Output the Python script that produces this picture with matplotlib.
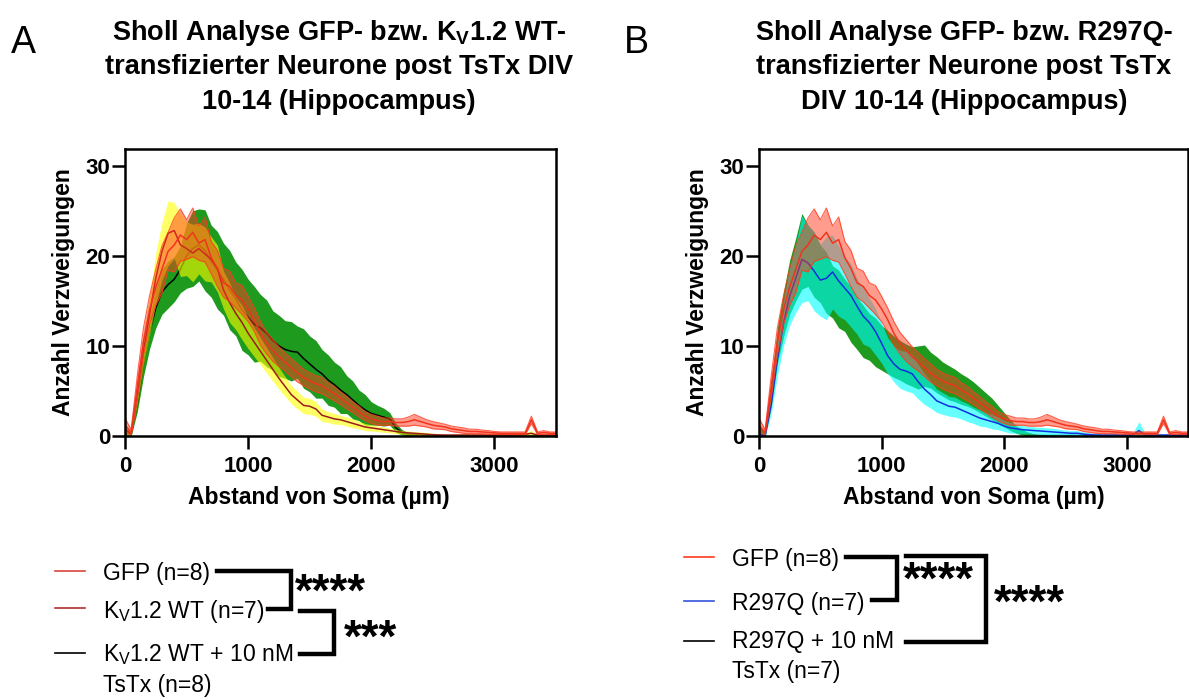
import matplotlib
matplotlib.use("Agg")
import matplotlib.pyplot as plt
from matplotlib.lines import Line2D

plt.rcParams['font.family'] = ['Liberation Sans', 'DejaVu Sans']
plt.rcParams['mathtext.fontset'] = 'custom'
plt.rcParams['mathtext.rm'] = 'Liberation Sans'
plt.rcParams['mathtext.bf'] = 'Liberation Sans:bold'
plt.rcParams['mathtext.it'] = 'Liberation Sans:italic'

# Sholl radius (µm) and mean / SEM of branch counts
radius = list(range(0, 3501, 50))

gfp_mean = [1.2, 0.4, 5.5, 10.5, 14.0, 16.5, 18.5, 20.5, 21.2, 22.3,
            21.8, 22.6, 21.4, 21.8, 19.8, 18.6, 17.0, 16.6, 15.6, 15.1,
            14.1, 12.9, 11.4, 10.3, 9.5, 8.8, 8.2, 7.6, 7.0, 6.5,
            6.1, 5.8, 5.6, 5.1, 4.7, 4.2, 3.7, 3.2, 2.7, 2.2,
            1.9, 1.7, 1.6, 1.6, 1.5, 1.5, 1.6, 1.8, 1.6, 1.4,
            1.2, 1.1, 1.0, 0.8, 0.7, 0.6, 0.5, 0.5, 0.45, 0.4,
            0.35, 0.3, 0.3, 0.3, 0.3, 0.3, 1.8, 0.3, 0.4, 0.3,
            0.3]
gfp_sem = [0.8, 0.3, 1.2, 1.5, 1.6, 2.0, 2.6, 2.1, 3.0, 2.9,
           2.2, 2.7, 1.9, 2.5, 1.8, 2.0, 1.6, 1.7, 1.4, 1.6,
           1.4, 1.3, 1.3, 1.2, 1.2, 1.1, 1.0, 1.0, 1.0, 0.9,
           0.9, 0.9, 0.9, 0.8, 0.8, 0.7, 0.7, 0.6, 0.6, 0.5,
           0.5, 0.5, 0.4, 0.4, 0.4, 0.4, 0.5, 0.6, 0.5, 0.4,
           0.4, 0.35, 0.3, 0.3, 0.3, 0.3, 0.25, 0.25, 0.2, 0.2,
           0.15, 0.15, 0.15, 0.15, 0.15, 0.15, 0.4, 0.15, 0.2, 0.15,
           0.15]

kv_wt_mean = [0.8, 0.2, 4.5, 9.5, 13.5, 17.5, 20.5, 22.5, 22.8, 21.2,
              20.8, 20.3, 20.8, 20.2, 19.6, 18.6, 16.2, 14.8, 13.6, 12.6,
              11.4, 10.4, 9.4, 8.4, 7.4, 6.4, 5.5, 4.6, 4.0, 3.4,
              3.3, 3.0, 2.3, 2.1, 1.9, 1.8, 1.6, 1.4, 1.2, 1.0,
              0.9, 0.8, 0.7, 0.6, 0.5, 0.4, 0.35, 0.3, 0.25, 0.2,
              0.15, 0.12, 0.1, 0.1, 0.1, 0.1, 0.1, 0.1, 0.1, 0.1,
              0.1, 0.1, 0.1, 0.1, 0.1, 0.2, 0.3, 0.1, 0.1, 0.1,
              0.1]
kv_wt_sem = [0.5, 0.2, 1.0, 1.6, 2.2, 2.8, 3.2, 3.6, 3.1, 3.5,
             3.0, 3.2, 2.8, 3.0, 2.5, 2.6, 2.1, 2.2, 1.8, 1.9,
             1.7, 1.6, 1.5, 1.4, 1.3, 1.2, 1.1, 1.0, 1.0, 0.9,
             0.9, 0.8, 0.7, 0.6, 0.6, 0.5, 0.5, 0.5, 0.4, 0.4,
             0.35, 0.3, 0.3, 0.25, 0.25, 0.2, 0.2, 0.2, 0.2, 0.2,
             0.15, 0.15, 0.1, 0.1, 0.1, 0.1, 0.1, 0.1, 0.1, 0.1,
             0.1, 0.1, 0.1, 0.1, 0.1, 0.2, 0.3, 0.1, 0.1, 0.1,
             0.1]

kv_tstx_mean = [0.5, 0.2, 3.5, 8.0, 11.5, 14.2, 16.0, 16.8, 17.4, 18.5,
                20.0, 20.8, 21.2, 20.6, 19.4, 18.4, 17.4, 16.2, 15.2, 14.0,
                13.2, 12.4, 12.0, 11.4, 10.6, 10.0, 9.6, 9.4, 9.3, 8.6,
                8.0, 7.4, 6.9, 6.2, 5.7, 5.1, 4.6, 4.0, 3.4, 2.9,
                2.5, 2.3, 2.1, 1.9, 0.9, 0.4, 0.2, 0.15, 0.1, 0.1,
                0.05, 0.05, 0.05, 0.05, 0.05, 0.05, 0.05, 0.05, 0.05, 0.05,
                0.05, 0.05, 0.05, 0.05, 0.05, 0.05, 0.05, 0.05, 0.05, 0.05,
                0.05]
kv_tstx_sem = [0.4, 0.2, 0.8, 1.4, 1.8, 2.2, 2.5, 2.6, 2.5, 2.6,
               3.6, 4.2, 4.0, 4.5, 4.0, 4.3, 4.0, 4.4, 4.1, 4.5,
               4.2, 4.2, 3.7, 3.7, 3.3, 3.4, 3.2, 3.3, 2.9, 3.3,
               3.1, 3.2, 2.7, 2.8, 2.5, 2.6, 2.1, 2.1, 1.7, 1.7,
               1.3, 1.1, 1.0, 0.7, 0.5, 0.3, 0.2, 0.15, 0.1, 0.1,
               0.05, 0.05, 0.05, 0.05, 0.05, 0.05, 0.05, 0.05, 0.05, 0.05,
               0.05, 0.05, 0.05, 0.05, 0.05, 0.05, 0.05, 0.05, 0.05, 0.05,
               0.05]

r297q_mean = [0.3, 0.0, 3.5, 8.5, 12.5, 15.5, 17.5, 19.6, 19.2, 18.3,
              17.3, 17.5, 18.2, 17.2, 16.4, 15.6, 14.4, 13.3, 12.6, 11.6,
              10.3, 8.9, 8.0, 7.4, 7.2, 6.9, 6.0, 5.2, 4.6, 3.9,
              3.6, 3.3, 3.2, 2.9, 2.6, 2.3, 2.0, 1.8, 1.6, 1.4,
              1.1, 0.9, 0.8, 0.7, 0.65, 0.6, 0.55, 0.5, 0.45, 0.4,
              0.35, 0.3, 0.3, 0.2, 0.15, 0.1, 0.1, 0.1, 0.1, 0.1,
              0.1, 0.1, 0.6, 0.1, 0.1, 0.1, 0.1, 0.1, 0.1, 0.1,
              0.1]
r297q_sem = [0.3, 0.1, 1.0, 1.8, 2.5, 3.2, 3.8, 4.8, 4.2, 4.4,
             4.0, 4.6, 4.1, 3.9, 3.5, 3.5, 3.1, 3.1, 2.7, 2.6,
             2.2, 2.0, 2.0, 2.1, 2.2, 2.1, 1.9, 1.7, 1.5, 1.3,
             1.2, 1.1, 1.1, 1.0, 1.0, 0.9, 0.9, 0.8, 0.8, 0.7,
             0.6, 0.6, 0.5, 0.45, 0.4, 0.4, 0.4, 0.4, 0.4, 0.35,
             0.3, 0.3, 0.3, 0.25, 0.2, 0.2, 0.2, 0.2, 0.2, 0.2,
             0.2, 0.2, 1.0, 0.2, 0.15, 0.15, 0.1, 0.1, 0.1, 0.1,
             0.1]

r297q_tstx_mean = [0.6, 0.2, 4.5, 10.0, 13.5, 16.5, 18.5, 20.5, 20.0, 19.0,
                   18.0, 17.0, 16.0, 15.2, 14.5, 13.5, 12.5, 11.6, 11.0, 10.4,
                   9.8, 9.3, 8.8, 8.4, 8.0, 7.7, 7.6, 7.8, 7.3, 6.8,
                   6.3, 5.9, 5.6, 5.2, 4.9, 4.5, 4.0, 3.5, 3.0, 2.4,
                   1.8, 1.2, 0.7, 0.4, 0.2, 0.1, 0.05, 0.05, 0.05, 0.05,
                   0.05, 0.05, 0.05, 0.05, 0.05, 0.05, 0.05, 0.05, 0.05, 0.05,
                   0.05, 0.05, 0.05, 0.05, 0.05, 0.05, 0.05, 0.05, 0.05, 0.05,
                   0.05]
r297q_tstx_sem = [0.5, 0.2, 1.2, 2.0, 2.5, 3.0, 3.5, 4.2, 3.4, 3.6,
                  3.2, 3.4, 2.9, 3.2, 2.9, 3.1, 2.9, 2.9, 2.6, 2.7,
                  2.5, 2.4, 2.3, 2.2, 2.2, 2.2, 2.4, 2.3, 2.0, 2.0,
                  1.9, 1.9, 1.8, 1.7, 1.6, 1.5, 1.4, 1.3, 1.2, 1.0,
                  0.8, 0.6, 0.4, 0.3, 0.2, 0.1, 0.05, 0.05, 0.05, 0.05,
                  0.05, 0.05, 0.05, 0.05, 0.05, 0.05, 0.05, 0.05, 0.05, 0.05,
                  0.05, 0.05, 0.05, 0.05, 0.05, 0.05, 0.05, 0.05, 0.05, 0.05,
                  0.05]

x_ticks = [0, 1000, 2000, 3000]
y_ticks = [0, 10, 20, 30]

title_a = ['Sholl Analyse GFP- bzw. K$_\\mathbf{V}$1.2 WT-',
           'transfizierter Neurone post TsTx DIV',
           '10-14 (Hippocampus)']
title_b = ['Sholl Analyse GFP- bzw. R297Q-',
           'transfizierter Neurone post TsTx',
           'DIV 10-14 (Hippocampus)']

legend_a = ['GFP (n=8)', 'K$_\\mathrm{V}$1.2 WT (n=7)',
            'K$_\\mathrm{V}$1.2 WT + 10 nM\nTsTx (n=8)']
legend_b = ['GFP (n=8)', 'R297Q (n=7)', 'R297Q + 10 nM\nTsTx (n=7)']

W, H = 1189, 700
fig = plt.figure(figsize=(W / 100, H / 100), dpi=100)


def fx(x):
    return x / W


def fy(y):
    return 1 - y / H


def band(ax, mean, sem, line_color, band_color, alpha, z, edges=False, line_first=False):
    # each group is layered on top of the previous one (band, then line)
    lo = [m - s for m, s in zip(mean, sem)]
    hi = [m + s for m, s in zip(mean, sem)]
    line_z = z + 0.1 if line_first else z + 0.3
    ax.fill_between(radius, lo, hi, color=band_color, alpha=alpha, lw=0, zorder=z + 0.2)
    if edges:
        ax.plot(radius, lo, color=band_color, lw=0.8, alpha=0.8, zorder=z + 0.25)
        ax.plot(radius, hi, color=band_color, lw=0.8, alpha=0.8, zorder=z + 0.25)
    ax.plot(radius, mean, color=line_color, lw=1.1, zorder=line_z)


def style(ax, xlabel_x=0.5):
    ax.set_xlim(0, 3500)
    ax.set_ylim(0, 31.85)
    ax.set_xticks(x_ticks)
    ax.set_yticks(y_ticks)
    for s in ax.spines.values():
        s.set_linewidth(1.8)
        s.set_zorder(10)
    ax.tick_params(axis='both', length=9.5, width=1.8, labelsize=16)
    ax.tick_params(axis='x', pad=5)
    ax.tick_params(axis='y', pad=1)
    for lab in ax.get_xticklabels() + ax.get_yticklabels():
        lab.set_fontweight('bold')
    ax.set_xlabel('Abstand von Soma (µm)', fontsize=16.5, fontweight='bold', labelpad=9)
    ax.xaxis.set_label_coords(xlabel_x, -0.175)
    ax.set_ylabel('Anzahl Verzweigungen', fontsize=16.5, fontweight='bold', labelpad=8)


# panel A
ax_a = fig.add_axes([fx(125), fy(436), fx(556) - fx(125), fy(149) - fy(436)])
band(ax_a, kv_tstx_mean, kv_tstx_sem, 'black', '#1e9a1e', 1.0, 1)
band(ax_a, kv_wt_mean, kv_wt_sem, '#9b1c1c', '#ffff00', 0.6, 2)
band(ax_a, gfp_mean, gfp_sem, '#f0341e', '#ff3b1f', 0.5, 3, edges=True)
style(ax_a, xlabel_x=(319 - 125) / 431)

# panel B
ax_b = fig.add_axes([fx(759), fy(436), fx(1188) - fx(759), fy(149) - fy(436)])
band(ax_b, r297q_tstx_mean, r297q_tstx_sem, 'black', '#1e9a1e', 1.0, 1, line_first=True)
band(ax_b, r297q_mean, r297q_sem, '#1030e0', '#00ffff', 0.6, 2)
band(ax_b, gfp_mean, gfp_sem, '#f0341e', '#ff3b1f', 0.5, 3, edges=True)
style(ax_b, xlabel_x=(974 - 759) / 429)

# titles and panel letters
for i, line in enumerate(title_a):
    fig.text(fx(339), fy(40 + 34.5 * i), line, ha='center', va='baseline',
             fontsize=19.5, fontweight='bold')
for i, line in enumerate(title_b):
    fig.text(fx(964), fy(40 + 34.5 * i), line, ha='center', va='baseline',
             fontsize=19.5, fontweight='bold')
fig.text(fx(11), fy(53), 'A', fontsize=27, va='baseline')
fig.text(fx(624), fy(53), 'B', fontsize=27, va='baseline')


def handle(x, y, color):
    fig.add_artist(Line2D([fx(x), fx(x + 30)], [fy(y), fy(y)], color=color, lw=1.2,
                          transform=fig.transFigure))


def bracket(pts, lw=3.2):
    fig.add_artist(Line2D([fx(p[0]) for p in pts], [fy(p[1]) for p in pts],
                          color='black', lw=lw, solid_joinstyle='miter',
                          transform=fig.transFigure))


# legend A
handle(55, 571, '#d9463e')
handle(55, 608, '#b0302c')
handle(55, 653, 'black')
fig.text(fx(103), fy(571), legend_a[0], fontsize=16.5, va='center_baseline')
fig.text(fx(103), fy(608), legend_a[1], fontsize=16.5, va='center_baseline')
fig.text(fx(103), fy(642), legend_a[2], fontsize=16.5, va='top', linespacing=1.4)
bracket([(217, 571), (291, 571), (291, 609), (268, 609)])
bracket([(300, 611), (334, 611), (334, 654), (300, 654)])
fig.text(fx(295), fy(606), '****', fontsize=33, fontweight='bold', va='baseline')
fig.text(fx(344), fy(652), '***', fontsize=33, fontweight='bold', va='baseline')

# legend B
handle(684, 557, '#ff3b1f')
handle(684, 601, '#3355dd')
handle(684, 641, 'black')
fig.text(fx(732), fy(557), legend_b[0], fontsize=16.5, va='center_baseline')
fig.text(fx(732), fy(601), legend_b[1], fontsize=16.5, va='center_baseline')
fig.text(fx(732), fy(630), legend_b[2], fontsize=16.5, va='top', linespacing=1.4)
bracket([(846, 557), (897, 557), (897, 600), (872, 600)])
bracket([(906, 556), (986, 556), (986, 642), (906, 642)])
fig.text(fx(903), fy(594), '****', fontsize=33, fontweight='bold', va='baseline')
fig.text(fx(994), fy(617), '****', fontsize=33, fontweight='bold', va='baseline')

fig.savefig('out.png', dpi=100)
